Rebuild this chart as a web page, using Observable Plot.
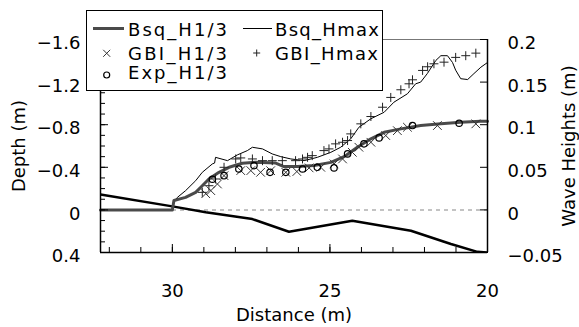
<!DOCTYPE html>
<html><head><meta charset="utf-8">
<script src="https://cdn.jsdelivr.net/npm/d3@7"></script>
<script src="https://cdn.jsdelivr.net/npm/@observablehq/plot@0.6"></script>
<style>
html,body{margin:0;padding:0;background:#fff;}
#wrap{position:relative;width:579px;height:327px;overflow:hidden;}
#legend{position:absolute;left:86px;top:10px;}
</style></head><body>
<div id="wrap"></div>
<script>
// ---------- data ----------
const bedDist  = [32.28, 30.0, 28.94, 27.46, 26.30, 24.29, 22.43, 21.16, 20.32, 20.0];
const bedDepth = [-0.144, -0.033, 0.023, 0.086, 0.205, 0.102, 0.196, 0.32, 0.394, 0.40];

const bsqH13Dist = [32.28, 30.0, 29.95, 29.58, 29.26, 29.05, 28.84, 28.52, 28.20, 27.78, 27.36, 26.72, 26.46, 26.03, 25.50, 24.97, 24.55, 24.13, 23.70, 23.28, 22.75, 22.12, 21.48, 20.85, 20.21, 20.0];
const bsqH13     = [0, 0, 0.011, 0.0147, 0.0206, 0.0284, 0.0363, 0.0441, 0.050, 0.0547, 0.0558, 0.055, 0.0508, 0.0508, 0.052, 0.0558, 0.0625, 0.0735, 0.0834, 0.0911, 0.0951, 0.099, 0.101, 0.103, 0.104, 0.104];

const bsqHmaxDist = [32.28, 30.0, 29.96, 29.84, 29.58, 29.26, 29.05, 28.73, 28.66, 28.63, 28.25, 27.94, 27.62, 27.46, 27.14, 26.83, 26.56, 26.24, 25.82, 25.40, 24.97, 24.66, 24.34, 24.08, 23.70, 23.28, 22.97, 22.54, 22.28, 22.12, 21.91, 21.64, 21.48, 21.27, 21.11, 21.01, 20.85, 20.63, 20.43, 20.21, 20.0];
const bsqHmax     = [0, 0, 0.0096, 0.0147, 0.0226, 0.0343, 0.0441, 0.054, 0.055, 0.0617, 0.0578, 0.0645, 0.0696, 0.0735, 0.0716, 0.0657, 0.0625, 0.0598, 0.0578, 0.0617, 0.0676, 0.0735, 0.0834, 0.097, 0.107, 0.1146, 0.1264, 0.1363, 0.148, 0.15, 0.16, 0.1754, 0.181, 0.181, 0.173, 0.164, 0.154, 0.153, 0.16, 0.1675, 0.173];

const gbiH13Dist = [28.94, 28.78, 28.57, 28.36, 27.83, 27.51, 27.20, 26.88, 26.40, 26.05, 25.66, 25.29, 24.87, 24.60, 24.29, 24.08, 23.70, 23.23, 22.86, 22.54, 21.59, 20.37];
const gbiH13     = [0.019, 0.0226, 0.0304, 0.0402, 0.0461, 0.0461, 0.0441, 0.046, 0.0441, 0.045, 0.0493, 0.050, 0.054, 0.0598, 0.0676, 0.0735, 0.0794, 0.0873, 0.093, 0.097, 0.099, 0.101];

const gbiHmaxDist = [29.05, 28.84, 28.63, 28.36, 27.99, 27.83, 27.46, 27.14, 26.83, 26.51, 26.09, 25.87, 25.71, 25.56, 25.19, 25.03, 24.82, 24.60, 24.44, 24.34, 24.02, 23.70, 23.33, 23.07, 22.75, 22.49, 22.38, 22.06, 21.90, 21.70, 21.38, 21.01, 20.69, 20.37];
const gbiHmax     = [0.0206, 0.0284, 0.0363, 0.050, 0.0598, 0.061, 0.0598, 0.0578, 0.0578, 0.0578, 0.0578, 0.0598, 0.0617, 0.0637, 0.0696, 0.0716, 0.0775, 0.0794, 0.0814, 0.0892, 0.101, 0.1096, 0.1205, 0.132, 0.141, 0.148, 0.1527, 0.1637, 0.168, 0.1715, 0.1734, 0.179, 0.181, 0.184];

const expH13Dist = [28.73, 28.36, 27.89, 27.41, 26.90, 26.40, 25.87, 25.40, 24.87, 24.44, 23.92, 23.44, 22.38, 20.90];
const expH13     = [0.036, 0.0402, 0.048, 0.052, 0.0441, 0.0441, 0.048, 0.050, 0.0493, 0.0657, 0.0775, 0.0845, 0.099, 0.1017];

const xMajorTicks = [30, 25, 20];
const xMinorTicks = [32, 31, 30, 29, 28, 27, 26, 25, 24, 23, 22, 21, 20];
const depthTicks = [-1.6, -1.2, -0.8, -0.4, 0, 0.4];
const depthMinorTicks = [-1.6, -1.5, -1.4, -1.3, -1.2, -1.1, -1.0, -0.9, -0.8, -0.7, -0.6, -0.5, -0.4, -0.3, -0.2, -0.1, 0, 0.1, 0.2, 0.3, 0.4];
const waveTicks = [0.2, 0.15, 0.1, 0.05, 0, -0.05];

const legendLabels = ["Bsq_H1/3", "Bsq_Hmax", "GBI_H1/3", "GBI_Hmax", "Exp_H1/3"];
const xLabel = "Distance (m)", yLabel = "Depth (m)", y2Label = "Wave Heights (m)";

// ---------- build ----------
const zip = (xs, ys, k) => xs.map((x, i) => ({dist: x, [k]: ys[i]}));
const bed = zip(bedDist, bedDepth, "depth");
const sH13 = zip(bsqH13Dist, bsqH13, "h");
const sHmax = zip(bsqHmaxDist, bsqHmax, "h");
const gH13 = zip(gbiH13Dist, gbiH13, "h");
const gHmax = zip(gbiHmaxDist, gbiHmax, "h");
const eH13 = zip(expH13Dist, expH13, "h");

// wave height axis shares the depth scale: 0.2 m <-> -1.6 m
const toDepth = h => -8 * h;
const hy = d => toDepth(d.h);
const minus = s => s.replace("-", "\u2212");
const fmtDepth = d => d === 0 ? "0" : minus(d.toFixed(1));
const fmtWave = v => v === 0 ? "0" : minus(String(+v.toFixed(2)));
const wavePos = waveTicks.map(toDepth);
const waveLabelByPos = new Map(waveTicks.map((v, i) => [wavePos[i], fmtWave(v)]));

const FONT = "DejaVu Sans, sans-serif";
const xDom = [32.28, 20];
const yDom = [0.4, -1.6];

const tickOnly = {fill: "none", stroke: "#000", label: null};

const chart = Plot.plot({
  width: 579, height: 327,
  marginLeft: 100, marginRight: 92, marginTop: 39, marginBottom: 75,
  style: {fontFamily: FONT, fontSize: "18px", color: "#000", background: "#fff"},
  x: {domain: xDom},
  y: {domain: yDom},
  marks: [
    Plot.ruleY([0], {stroke: "#b0b0b0", strokeWidth: 1.5, strokeDasharray: "4,4"}),
    Plot.line(bed, {x: "dist", y: "depth", stroke: "#000", strokeWidth: 2.5, clip: true}),
    Plot.line(sHmax, {x: "dist", y: hy, stroke: "#000", strokeWidth: 1}),
    Plot.line(sH13, {x: "dist", y: hy, stroke: "#4a4a4a", strokeWidth: 3}),
    Plot.dot(gH13, {x: "dist", y: hy, symbol: "times", r: 4, stroke: "#333", strokeWidth: 1}),
    Plot.dot(gHmax, {x: "dist", y: hy, symbol: "plus", r: 3, stroke: "#222", strokeWidth: 1}),
    Plot.dot(eH13, {x: "dist", y: hy, symbol: "circle", r: 3.2, fill: "none", stroke: "#000", strokeWidth: 1.2}),
    // frame
    Plot.ruleY([yDom[1]], {stroke: "#777", strokeWidth: 1}),
    Plot.ruleY([yDom[0]], {stroke: "#000", strokeWidth: 1.5}),
    Plot.ruleX([xDom[0]], {stroke: "#000", strokeWidth: 1.5}),
    Plot.ruleX([xDom[1]], {stroke: "#000", strokeWidth: 1.5}),
    // axes: ticks point inward
    Plot.axisY(depthMinorTicks, {anchor: "left", tickSize: -5, ...tickOnly}),
    Plot.axisY(depthTicks, {anchor: "left", tickSize: -8, ...tickOnly}),
    Plot.axisY(depthTicks, {anchor: "left", tickSize: 0, tickPadding: 20, tickFormat: fmtDepth, fontSize: 18, dy: 4, label: null}),
    Plot.axisY(wavePos, {anchor: "right", tickSize: -8, ...tickOnly}),
    Plot.axisY(wavePos, {anchor: "right", tickSize: 0, tickPadding: 20, tickFormat: d => waveLabelByPos.get(d), fontSize: 18, dy: 4, label: null}),
    Plot.axisX(xMinorTicks, {anchor: "bottom", tickSize: -5, ...tickOnly}),
    Plot.axisX(xMajorTicks, {anchor: "bottom", tickSize: -8, ...tickOnly}),
    Plot.axisX(xMajorTicks, {anchor: "bottom", tickSize: 0, tickPadding: 32, fontSize: 18, label: null}),
    Plot.text([yLabel], {text: d => d, frameAnchor: "left", rotate: -90, dx: -81, fontSize: 18, textAnchor: "middle", lineAnchor: "middle", ariaLabel: "lab-y"}),
    Plot.text([y2Label], {text: d => d, frameAnchor: "right", rotate: -90, dx: 82, fontSize: 18, textAnchor: "middle", lineAnchor: "middle", ariaLabel: "lab-y2"}),
    Plot.text([xLabel], {text: d => d, frameAnchor: "bottom", dy: 63, fontSize: 18, textAnchor: "middle", lineAnchor: "middle", ariaLabel: "lab-x"})
  ]
});
const wrap = document.getElementById("wrap");
wrap.appendChild(chart);
const fit = (name, L) => d3.select(chart).selectAll(`g[aria-label="${name}"] text`).attr("textLength", L).attr("lengthAdjust", "spacing");
fit("lab-y", 100); fit("lab-y2", 178); fit("lab-x", 130);

// ---------- legend (overlay box) ----------
const lg = d3.select(wrap).append("svg").attr("id", "legend")
  .attr("width", 297).attr("height", 82)
  .style("font-family", FONT).style("font-size", "18px");
lg.append("rect").attr("x", 0.5).attr("y", 0.5).attr("width", 296).attr("height", 80)
  .attr("fill", "#fff").attr("stroke", "#000").attr("stroke-width", 1);
lg.append("line").attr("x1", 7).attr("x2", 38).attr("y1", 18.5).attr("y2", 18.5).attr("stroke", "#4a4a4a").attr("stroke-width", 3);
lg.append("line").attr("x1", 157).attr("x2", 186).attr("y1", 18.5).attr("y2", 18.5).attr("stroke", "#000").attr("stroke-width", 1);
const tx = 20.7, ty = 43.3, s = 3.5;
lg.append("path").attr("d", `M${tx-s},${ty-s}L${tx+s},${ty+s}M${tx-s},${ty+s}L${tx+s},${ty-s}`).attr("stroke", "#333").attr("fill", "none");
const px = 170.7, py = 43;
lg.append("path").attr("d", `M${px-s},${py}L${px+s},${py}M${px},${py-s}L${px},${py+s}`).attr("stroke", "#222").attr("fill", "none");
lg.append("circle").attr("cx", 20.7).attr("cy", 65).attr("r", 3).attr("fill", "none").attr("stroke", "#000").attr("stroke-width", 1.2);
const legendPos = [[42, 26.2, 99], [189, 26.2, 104], [42, 49.5, 99], [189, 49.5, 103], [42, 69, 99]];
legendLabels.forEach((t, i) => {
  const [x, y, L] = legendPos[i];
  lg.append("text").attr("x", x).attr("y", y).attr("textLength", L).attr("lengthAdjust", "spacing").attr("fill", "#000").text(t);
});
</script>
</body></html>
